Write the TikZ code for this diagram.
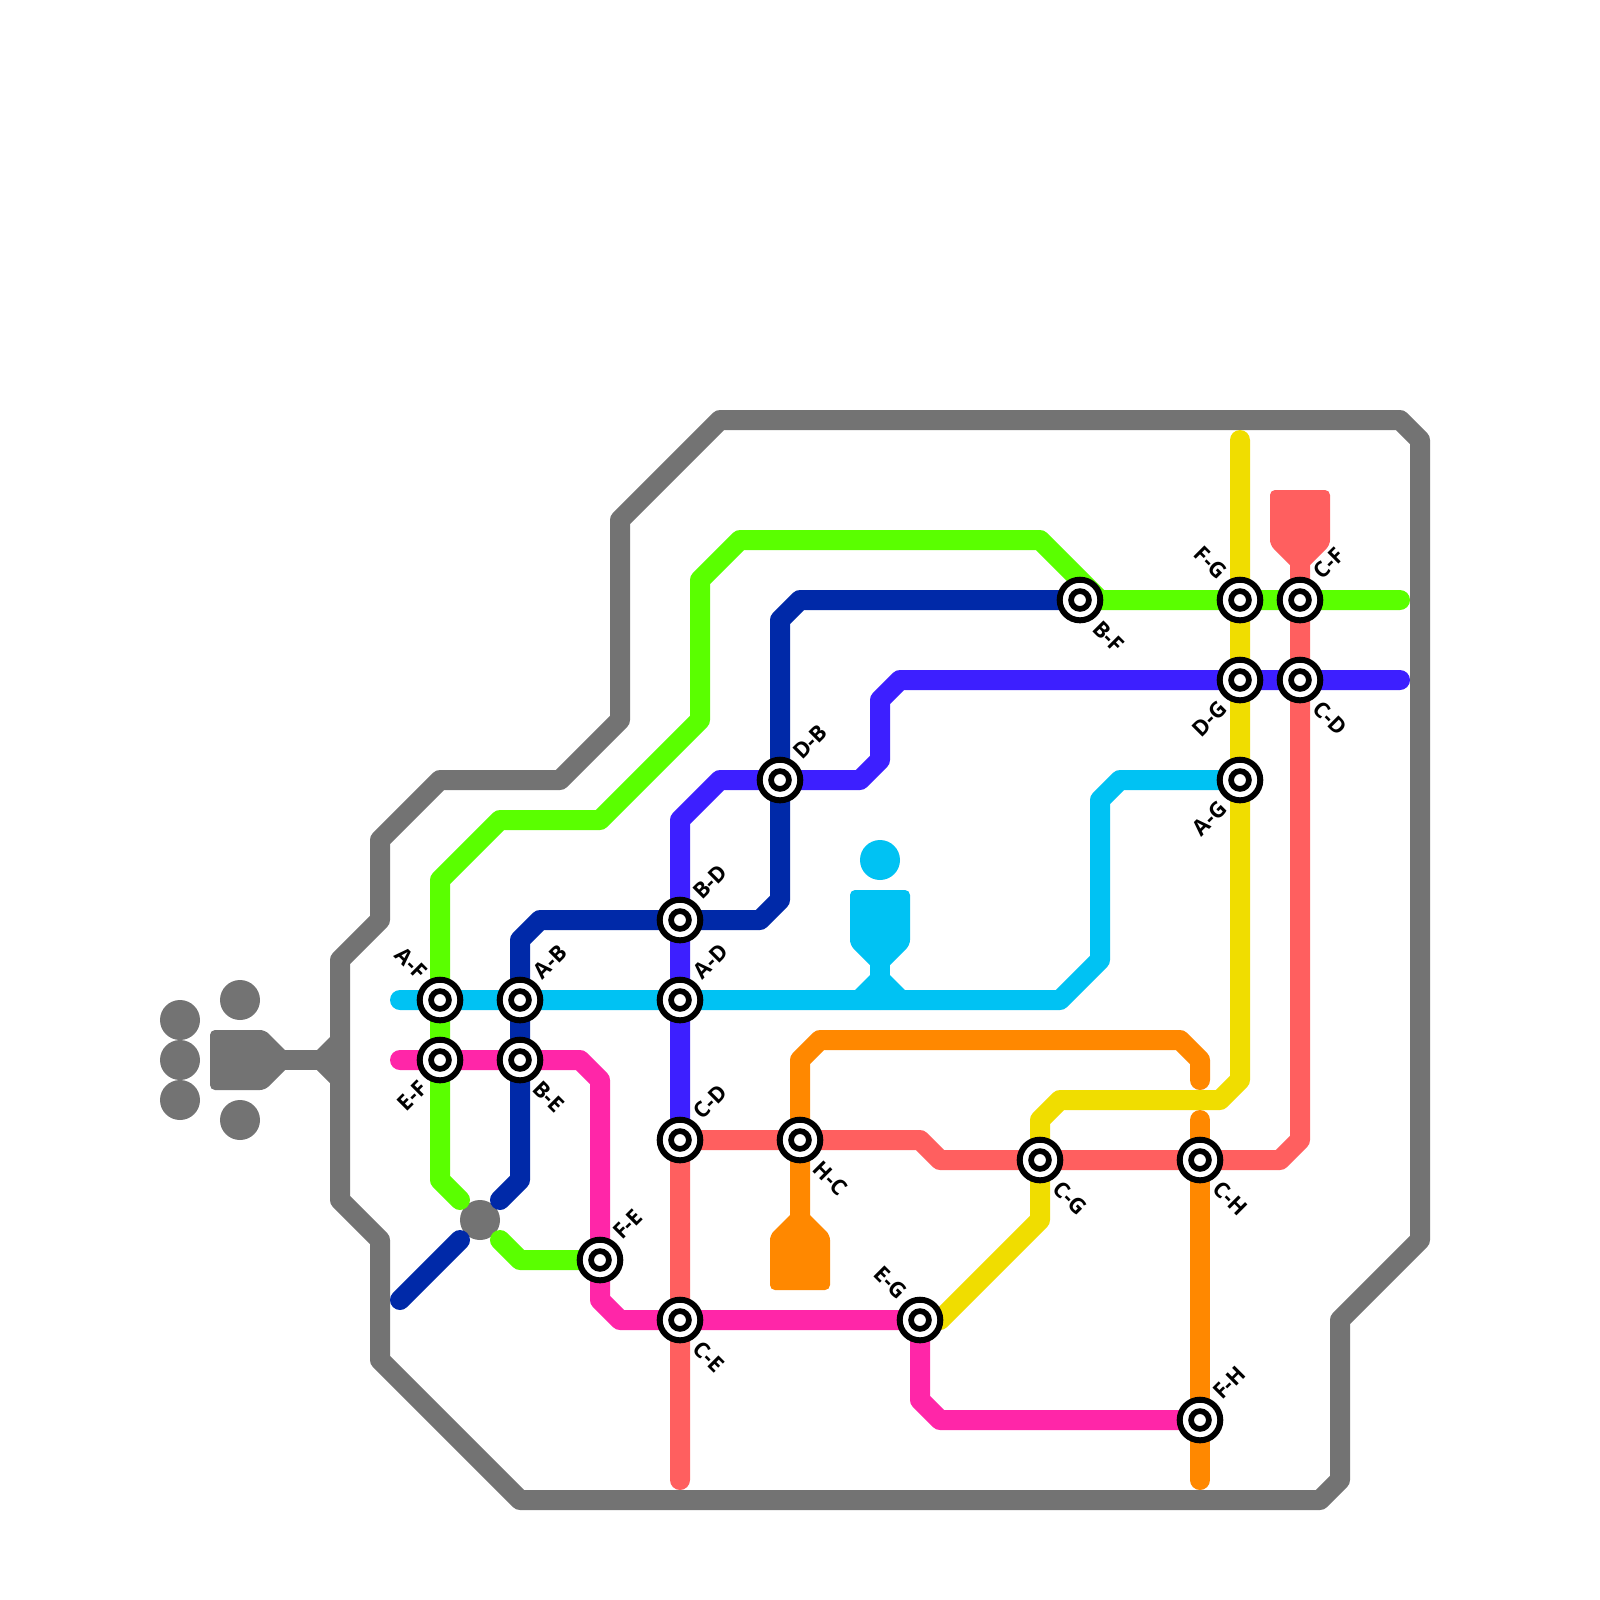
\documentclass[tikz,border=0pt]{standalone}
\usepackage{fontspec}
\setsansfont{Open Sans}
\usetikzlibrary{backgrounds}
\definecolor{rivergray}{HTML}{737373}
\definecolor{linegreen}{HTML}{5AFF00}
\definecolor{linenavy}{HTML}{0029A8}
\definecolor{lineviolet}{HTML}{3D1FFF}
\definecolor{linecyan}{HTML}{00C2F3}
\definecolor{linepink}{HTML}{FF26A8}
\definecolor{linecoral}{HTML}{FF5F5F}
\definecolor{lineorange}{HTML}{FF8800}
\definecolor{lineyellow}{HTML}{F0DD00}

\begin{document}
\begin{tikzpicture}[
    x=.2cm, y=-.2cm,
    stn/.style={circle, draw=black, fill=white, line width=.06cm, minimum size=.406cm, inner sep=0pt,
        path picture={\draw[line width=.057cm] (path picture bounding box.center) circle (.089cm);}},
    tag/.style={font=\sffamily\bfseries\fontsize{6.2pt}{7pt}\selectfont, inner sep=0pt, text=black},
    tagne/.style={label={[tag, label distance=.08cm, rotate=45, anchor=west]45:#1}},
    tagnw/.style={label={[tag, label distance=.08cm, rotate=-45, anchor=east]135:#1}},
    tagsw/.style={label={[tag, label distance=.08cm, rotate=45, anchor=east]225:#1}},
    tagse/.style={label={[tag, label distance=.08cm, rotate=-45, anchor=west]315:#1}},
    route/.style={line width=.2cm, line join=round, line cap=round},
    endbody/.style={rounded corners=.05cm}
]
    \useasboundingbox (0,0) rectangle (80,80);

    % stations
    \node[stn, tagnw=A-F] (af) at (22,50) {};
    \node[stn, tagsw=E-F] (ef) at (22,53) {};
    \node[stn, tagne=A-B] (ab) at (26,50) {};
    \node[stn, tagse=B-E] (be) at (26,53) {};
    \node[stn, tagne=F-E] (fe) at (30,63) {};
    \node[stn, tagne=B-D] (bd) at (34,46) {};
    \node[stn, tagne=A-D] (ad) at (34,50) {};
    \node[stn, tagne=C-D] (cd) at (34,57) {};
    \node[stn, tagse=C-E] (ce) at (34,66) {};
    \node[stn, tagne=D-B] (db) at (39,39) {};
    \node[stn, tagse=H-C] (hc) at (40,57) {};
    \node[stn, tagnw=E-G] (eg) at (46,66) {};
    \node[stn, tagse=C-G] (cg) at (52,58) {};
    \node[stn, tagse=B-F] (bf) at (54,30) {};
    \node[stn, tagse=C-H] (ch) at (60,58) {};
    \node[stn, tagne=F-H] (fh) at (60,71) {};
    \node[stn, tagnw=F-G] (fg) at (62,30) {};
    \node[stn, tagsw=D-G] (dg) at (62,34) {};
    \node[stn, tagsw=A-G] (ag) at (62,39) {};
    \node[stn, tagne=C-F] (cf) at (65,30) {};
    \node[stn, tagse=C-D] (cu) at (65,34) {};

    % free ends
    \coordinate (hub) at (24,61);
    \coordinate (greenin) at (23,60);
    \coordinate (greenout) at (25,62);
    \coordinate (navyin) at (25,60);
    \coordinate (navyout) at (23,62);
    \coordinate (navyend) at (20,65);
    \coordinate (greenend) at (70,30);
    \coordinate (violetend) at (70,34);
    \coordinate (cyanend) at (20,50);
    \coordinate (pinkend) at (20,53);
    \coordinate (coralend) at (34,74);
    \coordinate (orangeend) at (60,74);
    \coordinate (orangeup) at (60,54);
    \coordinate (orangedown) at (60,56);
    \coordinate (yellowend) at (62,22);

    \begin{scope}[on background layer]
        % river
        \draw[route, rivergray, line cap=butt] (36,21) -- (70,21) -- (71,22) -- (71,62) -- (67,66) -- (67,74) -- (66,75) -- (26,75)
            -- (19,68) -- (19,62) -- (17,60) -- (17,48) -- (19,46) -- (19,42) -- (22,39) -- (28,39) -- (31,36) -- (31,26) -- cycle;
        \draw[route, rivergray] (14,53) -- (17,53);
        \fill[rivergray] (17,51.35) -- (15.35,53) -- (17,54.65) -- cycle;
        \fill[rivergray, endbody] (10.5,51.5) -- (13.25,51.5) -- (14.75,53) -- (13.25,54.5) -- (10.5,54.5) -- cycle;
        \foreach \py in {51,53,55} \fill[rivergray] (9,\py) circle (1);
        \foreach \py in {50,56} \fill[rivergray] (12,\py) circle (1);
        \fill[rivergray] (hub) circle (1);

        % lines
        \draw[route, lineyellow] (yellowend) -- (fg.center) -- (dg.center) -- (ag.center) -- (62,54) -- (61,55) -- (53,55) -- (52,56)
            -- (cg.center) -- (52,61) -- (47,66) -- (eg.center);
        \draw[route, linecoral] (coralend) -- (ce.center) -- (cd.center) -- (hc.center) -- (46,57) -- (47,58) -- (cg.center)
            -- (ch.center) -- (64,58) -- (65,57) -- (cu.center) -- (cf.center) -- (65,28);
        \fill[linecoral, endbody] (63.5,24.5) -- (66.5,24.5) -- (66.5,27.25) -- (65,28.75) -- (63.5,27.25) -- cycle;
        \draw[route, lineorange] (40,61) -- (hc.center) -- (40,53) -- (41,52) -- (59,52) -- (60,53) -- (orangeup);
        \draw[route, lineorange] (orangedown) -- (ch.center) -- (fh.center) -- (orangeend);
        \fill[lineorange, endbody] (40,60.25) -- (41.5,61.75) -- (41.5,64.5) -- (38.5,64.5) -- (38.5,61.75) -- cycle;
        \draw[route, linepink] (pinkend) -- (ef.center) -- (be.center) -- (29,53) -- (30,54) -- (fe.center) -- (30,65) -- (31,66)
            -- (ce.center) -- (eg.center) -- (46,70) -- (47,71) -- (fh.center);
        \draw[route, linegreen] (greenend) -- (cf.center) -- (fg.center) -- (55,30) -- (52,27) -- (37,27) -- (35,29) -- (35,36)
            -- (30,41) -- (25,41) -- (22,44) -- (af.center) -- (ef.center) -- (22,59) -- (greenin);
        \draw[route, linegreen] (greenout) -- (26,63) -- (fe.center);
        \draw[route, linenavy] (bf.center) -- (40,30) -- (39,31) -- (db.center) -- (39,45) -- (38,46) -- (bd.center) -- (27,46) -- (26,47)
            -- (ab.center) -- (be.center) -- (26,59) -- (navyin);
        \draw[route, linenavy] (navyout) -- (navyend);
        \draw[route, lineviolet] (violetend) -- (cu.center) -- (dg.center) -- (45,34) -- (44,35) -- (44,38) -- (43,39) -- (db.center)
            -- (36,39) -- (34,41) -- (bd.center) -- (ad.center) -- (cd.center);
        \draw[route, linecyan] (cyanend) -- (af.center) -- (ab.center) -- (ad.center) -- (53,50) -- (55,48) -- (55,40) -- (56,39) -- (ag.center);
        \draw[route, linecyan] (44,48) -- (44,50);
        \fill[linecyan] (42.25,50) -- (44,48.25) -- (45.75,50) -- cycle;
        \fill[linecyan, endbody] (42.5,44.5) -- (45.5,44.5) -- (45.5,47.25) -- (44,48.75) -- (42.5,47.25) -- cycle;
        \fill[linecyan] (44,43) circle (1);
    \end{scope}
\end{tikzpicture}
\end{document}
